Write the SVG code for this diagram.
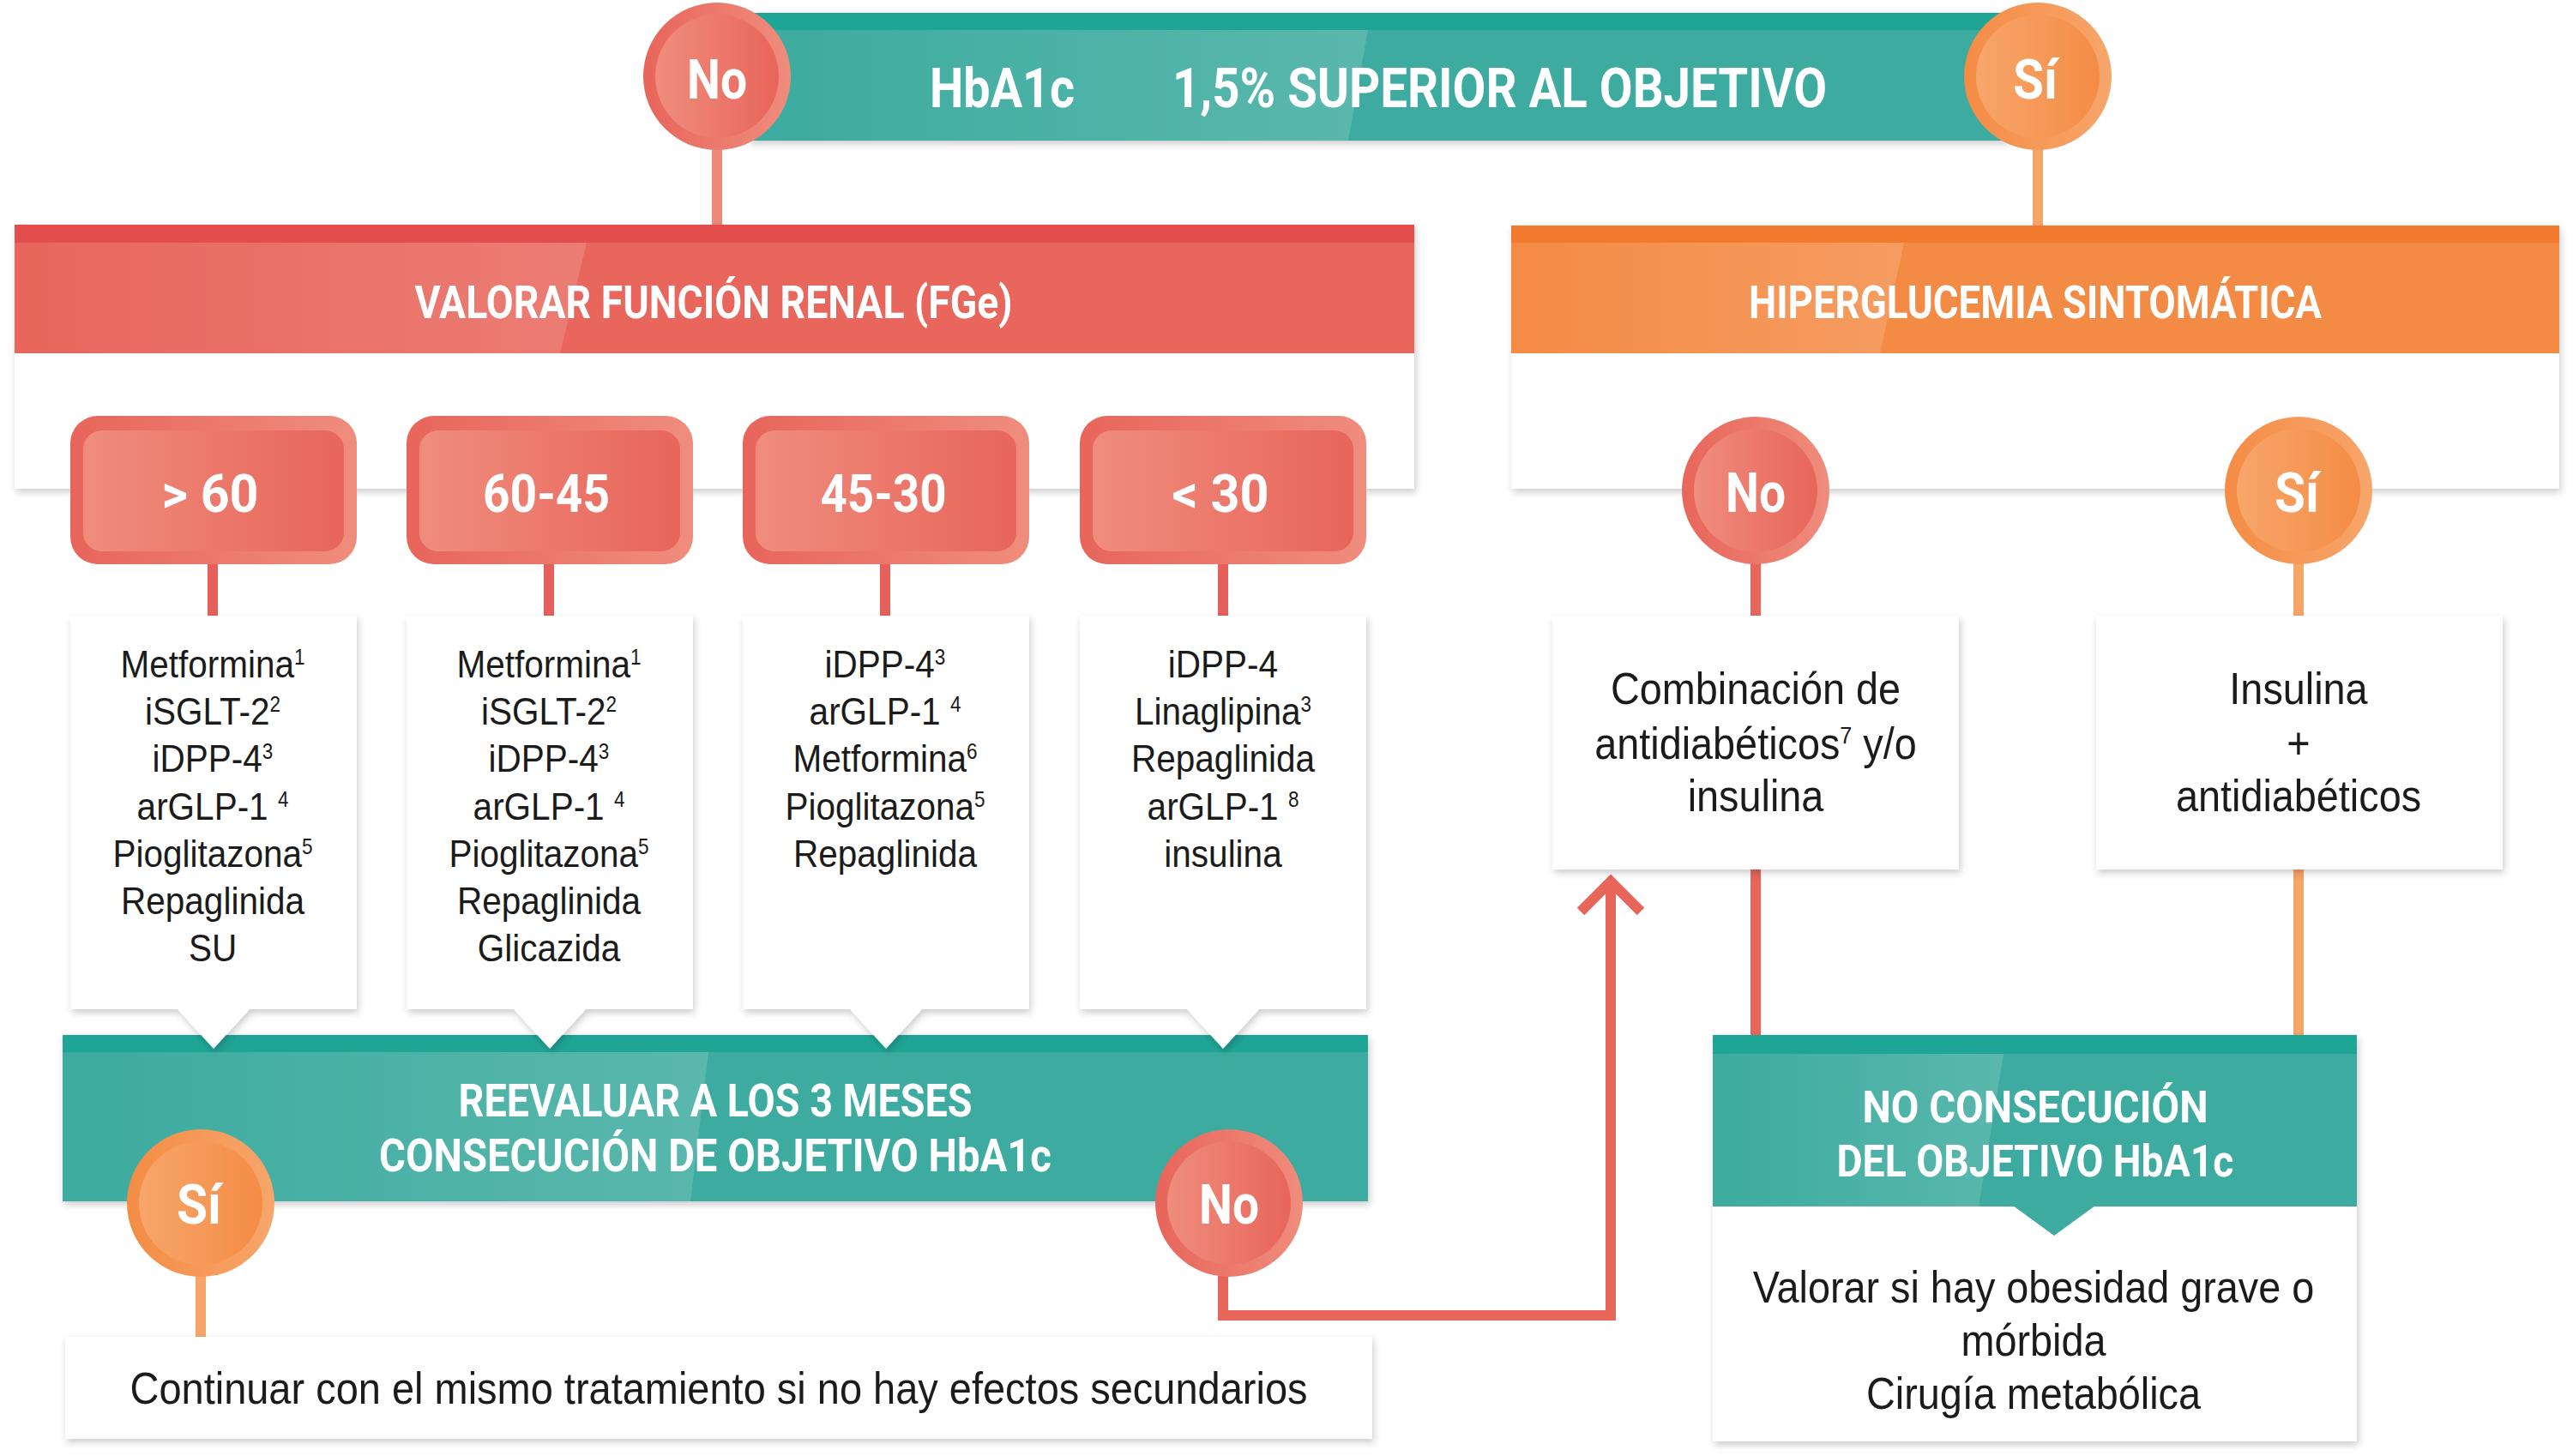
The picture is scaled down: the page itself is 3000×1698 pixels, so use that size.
<svg xmlns="http://www.w3.org/2000/svg" width="3000" height="1698" viewBox="0 0 3000 1698">
<defs>
<style>
.h{font-family:Roboto,"Liberation Sans",Arial,sans-serif;font-weight:700;fill:#fff;}
.b{font-family:"Liberation Sans",Arial,sans-serif;fill:#1b1b1b;text-anchor:middle;}
.lst{font-size:45px;}
.big{font-size:52px;}
.sup{font-size:25px;}
.white{fill:#fff;}
.teal{fill:#3dab9f;}
.tealS{fill:#1fa596;}
.red{fill:#e8665c;}
.redS{fill:#e34d4b;}
.org{fill:#f48b45;}
.orgS{fill:#f27a2e;}
.gloss{fill:url(#gl);}
.ln{fill:none;stroke-width:12;}
</style>
<filter id="sh" x="-5%" y="-10%" width="110%" height="130%">
<feDropShadow dx="2" dy="4" stdDeviation="4" flood-color="#000" flood-opacity="0.2"/>
</filter>
<linearGradient id="gl" x1="0" y1="0" x2="1" y2="0">
<stop offset="0" stop-color="#fff" stop-opacity="0"/>
<stop offset="1" stop-color="#fff" stop-opacity="0.15"/>
</linearGradient>
<linearGradient id="rRing" x1="0" y1="0" x2="1" y2="0">
<stop offset="0" stop-color="#e8655a"/><stop offset="1" stop-color="#ef8d7d"/>
</linearGradient>
<linearGradient id="rIn" x1="0" y1="0" x2="1" y2="0">
<stop offset="0" stop-color="#ef8d7d"/><stop offset="1" stop-color="#e8655a"/>
</linearGradient>
<linearGradient id="oRing" x1="0" y1="0" x2="1" y2="0">
<stop offset="0" stop-color="#f48c45"/><stop offset="1" stop-color="#f7a66b"/>
</linearGradient>
<linearGradient id="oIn" x1="0" y1="0" x2="1" y2="0">
<stop offset="0" stop-color="#f7a66b"/><stop offset="1" stop-color="#f48c45"/>
</linearGradient>
<g id="cR">
<circle r="86" fill="url(#rRing)"/>
<circle r="72" fill="url(#rIn)"/>
</g>
<g id="cO">
<circle r="86" fill="url(#oRing)"/>
<circle r="72" fill="url(#oIn)"/>
</g>
<g id="rb">
<rect x="0" y="0" width="334" height="173" rx="32" fill="url(#rRing)"/>
<rect x="15" y="17" width="304" height="141" rx="22" fill="url(#rIn)"/>
</g>
<path id="lb" d="M0,0 H334 V459 H209 L167,505 L125,459 H0 Z"/>
</defs>

<rect width="3000" height="1698" fill="#fff"/>

<g id="connectors">
<line class="ln" x1="836" y1="170" x2="836" y2="262" stroke="#ee8a78"/>
<line class="ln" x1="2376" y1="170" x2="2376" y2="263" stroke="#f6a468"/>
<line class="ln" x1="248" y1="650" x2="248" y2="718" stroke="#e5605a"/>
<line class="ln" x1="640" y1="650" x2="640" y2="718" stroke="#e5605a"/>
<line class="ln" x1="1032" y1="650" x2="1032" y2="718" stroke="#e5605a"/>
<line class="ln" x1="1426" y1="650" x2="1426" y2="718" stroke="#e5605a"/>
<line class="ln" x1="2047" y1="650" x2="2047" y2="718" stroke="#e8655a"/>
<line class="ln" x1="2680" y1="650" x2="2680" y2="718" stroke="#f6a468"/>
<line class="ln" x1="2047" y1="1014" x2="2047" y2="1207" stroke="#e8655a"/>
<line class="ln" x1="2680" y1="1014" x2="2680" y2="1207" stroke="#f6a468"/>
<line class="ln" x1="234" y1="1480" x2="234" y2="1559" stroke="#f6a468"/>
<path class="ln" d="M1426,1480 V1534 H1878 V1028" stroke="#e8655a"/>
<path class="ln" d="M1843,1063 L1878,1028 L1913,1063" stroke="#e8655a" stroke-linecap="butt"/>
</g>

<g id="n-hba1c">
<g filter="url(#sh)">
<rect x="873" y="15" width="1467" height="149" class="teal"/>
</g>
<rect x="873" y="15" width="1467" height="20" class="tealS"/>
<polygon points="873,35 1595,35 1572,164 873,164" class="gloss"/>
<text class="h" x="1084" y="125" font-size="65" textLength="169" lengthAdjust="spacingAndGlyphs">HbA1c</text>
<text class="h" x="1367" y="125" font-size="65" textLength="763" lengthAdjust="spacingAndGlyphs">1,5% SUPERIOR AL OBJETIVO</text>
<use href="#cR" x="836" y="89"/>
<text class="h" x="836" y="115" font-size="65" text-anchor="middle" textLength="70" lengthAdjust="spacingAndGlyphs">No</text>
<use href="#cO" x="2376" y="89"/>
<text class="h" x="2373" y="115" font-size="65" text-anchor="middle" textLength="52" lengthAdjust="spacingAndGlyphs">Sí</text>
</g>

<g id="n-renal">
<rect x="17" y="262" width="1632" height="308" class="white" filter="url(#sh)"/>
<rect x="17" y="262" width="1632" height="150" class="red"/>
<rect x="17" y="262" width="1632" height="21" class="redS"/>
<polygon points="17,283 684,283 653,412 17,412" class="gloss"/>
<text class="h" x="832" y="371" font-size="53" text-anchor="middle" textLength="697" lengthAdjust="spacingAndGlyphs">VALORAR FUNCIÓN RENAL (FGe)</text>
</g>

<g id="n-hiper">
<rect x="1762" y="263" width="1222" height="307" class="white" filter="url(#sh)"/>
<rect x="1762" y="263" width="1222" height="149" class="org"/>
<rect x="1762" y="263" width="1222" height="20" class="orgS"/>
<polygon points="1762,283 2220,283 2192,412 1762,412" class="gloss"/>
<text class="h" x="2373" y="371" font-size="53" text-anchor="middle" textLength="668" lengthAdjust="spacingAndGlyphs">HIPERGLUCEMIA SINTOMÁTICA</text>
</g>

<g id="n-gt60">
<use href="#rb" x="82" y="485"/>
<text class="h" x="245" y="597" font-size="62" text-anchor="middle" textLength="113" lengthAdjust="spacingAndGlyphs">&gt; 60</text>
</g>
<g id="n-60-45">
<use href="#rb" x="474" y="485"/>
<text class="h" x="637" y="597" font-size="62" text-anchor="middle" textLength="148" lengthAdjust="spacingAndGlyphs">60-45</text>
</g>
<g id="n-45-30">
<use href="#rb" x="866" y="485"/>
<text class="h" x="1030" y="597" font-size="62" text-anchor="middle" textLength="147" lengthAdjust="spacingAndGlyphs">45-30</text>
</g>
<g id="n-lt30">
<use href="#rb" x="1259" y="485"/>
<text class="h" x="1423" y="597" font-size="62" text-anchor="middle" textLength="113" lengthAdjust="spacingAndGlyphs">&lt; 30</text>
</g>

<g id="n-reevaluar">
<rect x="73" y="1207" width="1522" height="194" class="teal" filter="url(#sh)"/>
<rect x="73" y="1207" width="1522" height="20" class="tealS"/>
<polygon points="73,1227 826,1227 805,1401 73,1401" class="gloss"/>
<text class="h" x="834" y="1302" font-size="53" text-anchor="middle" textLength="599" lengthAdjust="spacingAndGlyphs">REEVALUAR A LOS 3 MESES</text>
<text class="h" x="834" y="1366" font-size="53" text-anchor="middle" textLength="784" lengthAdjust="spacingAndGlyphs">CONSECUCIÓN DE OBJETIVO HbA1c</text>
<use href="#cO" x="234" y="1403"/>
<text class="h" x="232" y="1427" font-size="65" text-anchor="middle" textLength="52" lengthAdjust="spacingAndGlyphs">Sí</text>
<use href="#cR" x="1433" y="1403"/>
<text class="h" x="1433" y="1427" font-size="65" text-anchor="middle" textLength="70" lengthAdjust="spacingAndGlyphs">No</text>
</g>

<g id="n-list1">
<use href="#lb" x="82" y="718" class="white" filter="url(#sh)"/>
<g transform="translate(248,0) scale(0.9,1)">
<text class="b lst" x="0" y="790">Metformina<tspan class="sup" dy="-15">1</tspan></text>
<text class="b lst" x="0" y="845">iSGLT-2<tspan class="sup" dy="-15">2</tspan></text>
<text class="b lst" x="0" y="900">iDPP-4<tspan class="sup" dy="-15">3</tspan></text>
<text class="b lst" x="0" y="956">arGLP-1 <tspan class="sup" dy="-15">4</tspan></text>
<text class="b lst" x="0" y="1011">Pioglitazona<tspan class="sup" dy="-15">5</tspan></text>
<text class="b lst" x="0" y="1066">Repaglinida</text>
<text class="b lst" x="0" y="1121">SU</text>
</g>
</g>
<g id="n-list2">
<use href="#lb" x="474" y="718" class="white" filter="url(#sh)"/>
<g transform="translate(640,0) scale(0.9,1)">
<text class="b lst" x="0" y="790">Metformina<tspan class="sup" dy="-15">1</tspan></text>
<text class="b lst" x="0" y="845">iSGLT-2<tspan class="sup" dy="-15">2</tspan></text>
<text class="b lst" x="0" y="900">iDPP-4<tspan class="sup" dy="-15">3</tspan></text>
<text class="b lst" x="0" y="956">arGLP-1 <tspan class="sup" dy="-15">4</tspan></text>
<text class="b lst" x="0" y="1011">Pioglitazona<tspan class="sup" dy="-15">5</tspan></text>
<text class="b lst" x="0" y="1066">Repaglinida</text>
<text class="b lst" x="0" y="1121">Glicazida</text>
</g>
</g>
<g id="n-list3">
<use href="#lb" x="866" y="718" class="white" filter="url(#sh)"/>
<g transform="translate(1032,0) scale(0.9,1)">
<text class="b lst" x="0" y="790">iDPP-4<tspan class="sup" dy="-15">3</tspan></text>
<text class="b lst" x="0" y="845">arGLP-1 <tspan class="sup" dy="-15">4</tspan></text>
<text class="b lst" x="0" y="900">Metformina<tspan class="sup" dy="-15">6</tspan></text>
<text class="b lst" x="0" y="956">Pioglitazona<tspan class="sup" dy="-15">5</tspan></text>
<text class="b lst" x="0" y="1011">Repaglinida</text>
</g>
</g>
<g id="n-list4">
<use href="#lb" x="1259" y="718" class="white" filter="url(#sh)"/>
<g transform="translate(1426,0) scale(0.9,1)">
<text class="b lst" x="0" y="790">iDPP-4</text>
<text class="b lst" x="0" y="845">Linaglipina<tspan class="sup" dy="-15">3</tspan></text>
<text class="b lst" x="0" y="900">Repaglinida</text>
<text class="b lst" x="0" y="956">arGLP-1 <tspan class="sup" dy="-15">8</tspan></text>
<text class="b lst" x="0" y="1011">insulina</text>
</g>
</g>

<g id="n-hiper-no">
<use href="#cR" x="2047" y="572"/>
<text class="h" x="2047" y="597" font-size="65" text-anchor="middle" textLength="70" lengthAdjust="spacingAndGlyphs">No</text>
</g>
<g id="n-hiper-si">
<use href="#cO" x="2680" y="572"/>
<text class="h" x="2678" y="597" font-size="65" text-anchor="middle" textLength="52" lengthAdjust="spacingAndGlyphs">Sí</text>
</g>

<g id="n-combinacion">
<rect x="1810" y="718" width="474" height="296" class="white" filter="url(#sh)"/>
<g transform="translate(2047,0) scale(0.9,1)">
<text class="b big" x="0" y="821">Combinación de</text>
<text class="b big" x="0" y="885">antidiabéticos<tspan font-size="28" dy="-18">7</tspan><tspan dy="18"> y/o</tspan></text>
<text class="b big" x="0" y="946">insulina</text>
</g>
</g>

<g id="n-insulina">
<rect x="2444" y="718" width="474" height="296" class="white" filter="url(#sh)"/>
<g transform="translate(2680,0) scale(0.9,1)">
<text class="b big" x="0" y="821">Insulina</text>
<text class="b big" x="0" y="885">+</text>
<text class="b big" x="0" y="946">antidiabéticos</text>
</g>
</g>

<g id="n-noconsecucion">
<rect x="1997" y="1207" width="751" height="474" class="white" filter="url(#sh)"/>
<rect x="1997" y="1207" width="751" height="200" class="teal"/>
<polygon points="2347,1406 2443,1406 2395,1441" class="teal"/>
<rect x="1997" y="1207" width="751" height="22" class="tealS"/>
<polygon points="1997,1229 2336,1229 2307,1407 1997,1407" class="gloss"/>
<text class="h" x="2373" y="1309" font-size="52" text-anchor="middle" textLength="403" lengthAdjust="spacingAndGlyphs">NO CONSECUCIÓN</text>
<text class="h" x="2373" y="1372" font-size="52" text-anchor="middle" textLength="463" lengthAdjust="spacingAndGlyphs">DEL OBJETIVO HbA1c</text>
<g transform="translate(2371,0) scale(0.9,1)">
<text class="b big" x="0" y="1519">Valorar si hay obesidad grave o</text>
<text class="b big" x="0" y="1581">mórbida</text>
<text class="b big" x="0" y="1643">Cirugía metabólica</text>
</g>
</g>

<g id="n-continuar">
<rect x="76" y="1559" width="1524" height="119" class="white" filter="url(#sh)"/>
<text class="b big" x="838" y="1637" textLength="1373" lengthAdjust="spacingAndGlyphs">Continuar con el mismo tratamiento si no hay efectos secundarios</text>
</g>
</svg>
